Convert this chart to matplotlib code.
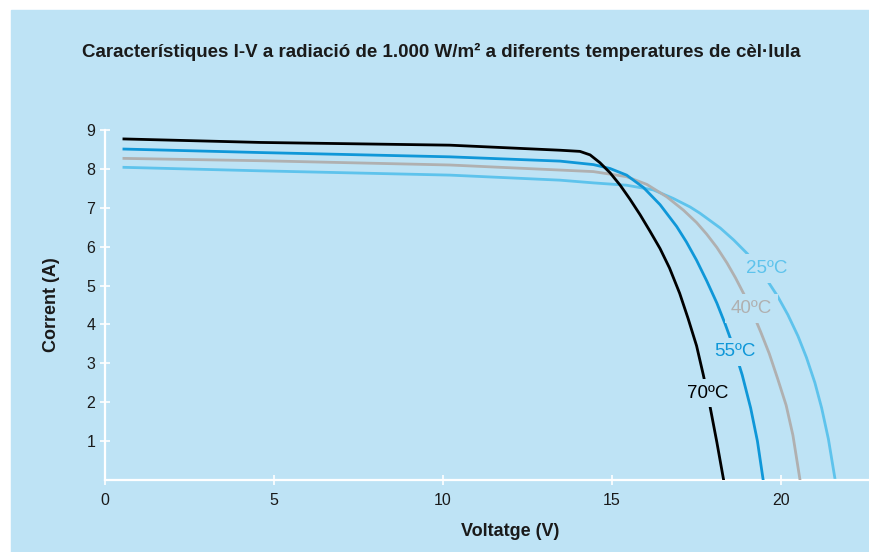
import matplotlib
matplotlib.use("Agg")
from matplotlib import pyplot
from matplotlib.patches import Rectangle

# I-V curves, (V, A)
v_70 = [0.56, 4.6, 10.2, 13.46, 14.05, 14.35, 14.64, 14.94, 15.24, 15.53, 15.83, 16.12,
        16.42, 16.7, 17.0, 17.25, 17.5, 17.7, 17.9, 18.1, 18.3]
i_70 = [8.77, 8.68, 8.61, 8.48, 8.45, 8.36, 8.16, 7.90, 7.58, 7.22, 6.82, 6.40,
        5.95, 5.45, 4.80, 4.15, 3.45, 2.70, 1.88, 0.97, 0.0]

v_55 = [0.56, 4.6, 10.2, 13.46, 14.45, 14.94, 15.43, 15.93, 16.42, 16.91, 17.2, 17.5,
        17.8, 18.1, 18.35, 18.6, 18.85, 19.1, 19.3, 19.47]
i_55 = [8.51, 8.42, 8.31, 8.20, 8.11, 8.01, 7.84, 7.52, 7.08, 6.52, 6.12, 5.65,
        5.12, 4.55, 4.00, 3.40, 2.70, 1.85, 1.00, 0.0]

v_40 = [0.56, 4.6, 10.2, 13.46, 14.45, 15.43, 16.03, 16.62, 17.11, 17.5, 17.8, 18.1,
        18.4, 18.65, 18.9, 19.15, 19.4, 19.65, 19.9, 20.15, 20.35, 20.56]
i_40 = [8.27, 8.21, 8.10, 7.97, 7.93, 7.80, 7.60, 7.28, 6.94, 6.62, 6.32, 5.98,
        5.58, 5.20, 4.78, 4.32, 3.80, 3.25, 2.60, 1.92, 1.15, 0.0]

v_25 = [0.56, 4.6, 10.2, 13.46, 14.45, 15.43, 16.22, 16.81, 17.31, 17.6, 18.2, 18.6,
        19.0, 19.3, 19.6, 19.9, 20.2, 20.5, 20.75, 21.0, 21.2, 21.4, 21.6]
i_25 = [8.04, 7.95, 7.84, 7.71, 7.64, 7.58, 7.46, 7.24, 7.02, 6.86, 6.48, 6.17,
        5.82, 5.50, 5.12, 4.72, 4.25, 3.70, 3.15, 2.50, 1.85, 1.05, 0.0]

labels = ['25ºC', '40ºC', '55ºC', '70ºC']
x_ticks = [0, 5, 10, 15, 20]
y_ticks = [1, 2, 3, 4, 5, 6, 7, 8, 9]

bg = '#bee3f5'
txt = '#1a1a1a'
c_25, c_40, c_55, c_70 = '#5ec3ec', '#b0b0b0', '#0f97d8', '#000000'

pyplot.rcParams['font.family'] = ['Liberation Sans', 'DejaVu Sans']

fig = pyplot.figure(figsize=(8.7, 5.52), dpi=100, facecolor='white')
fig.patches.append(Rectangle((11 / 870, 0), 859 / 870, 542 / 552,
                             transform=fig.transFigure, color=bg, zorder=-5))

ax = fig.add_axes([105 / 870, 72 / 552, 765 / 870, 350 / 552])
ax.set_facecolor('none')

lw = 2.0
ax.plot(v_25, i_25, color=c_25, lw=lw, solid_joinstyle='round', zorder=2)
ax.plot(v_40, i_40, color=c_40, lw=lw, solid_joinstyle='round', zorder=3)
ax.plot(v_55, i_55, color=c_55, lw=lw, solid_joinstyle='round', zorder=4)
ax.plot(v_70, i_70, color=c_70, lw=lw, solid_joinstyle='round', zorder=5)

# curve labels, with a background box that cuts the line
box = dict(boxstyle='square,pad=0.3', fc=bg, ec='none')
for lab, col, xy in zip(labels, [c_25, c_40, c_55, c_70],
                        [(19.58, 5.44), (19.13, 4.41), (18.62, 3.30), (17.83, 2.23)]):
    ax.text(xy[0], xy[1], lab, color=col, fontsize=13.5, ha='center', va='center',
            bbox=box, zorder=6)

ax.set_xlim(0, 22.63)
ax.set_ylim(0, 9)
ax.set_xticks(x_ticks)
ax.set_yticks(y_ticks)

for s in ['top', 'right']:
    ax.spines[s].set_visible(False)
for s in ['left', 'bottom']:
    ax.spines[s].set_color('white')
    ax.spines[s].set_linewidth(1.6)
ax.spines['left'].set_bounds(0, 9)

ax.tick_params(axis='both', direction='inout', length=7, width=1.2, color='white',
               labelsize=11.5, labelcolor=txt)
ax.tick_params(axis='x', pad=6)
ax.tick_params(axis='y', pad=3.5)

fig.text(441 / 870, 1 - 52 / 552,
         'Característiques I-V a radiació de 1.000 W/m² a diferents temperatures de cèl·lula',
         fontsize=13.5, fontweight='bold', color=txt, ha='center', va='center')
fig.text(510 / 870, 1 - 531 / 552, 'Voltatge (V)', fontsize=13, fontweight='bold',
         color=txt, ha='center', va='center')
fig.text(51.5 / 870, 1 - 305 / 552, 'Corrent (A)', fontsize=13, fontweight='bold',
         color=txt, ha='center', va='center', rotation=90)

fig.savefig('out.png', dpi=100, facecolor='white')
